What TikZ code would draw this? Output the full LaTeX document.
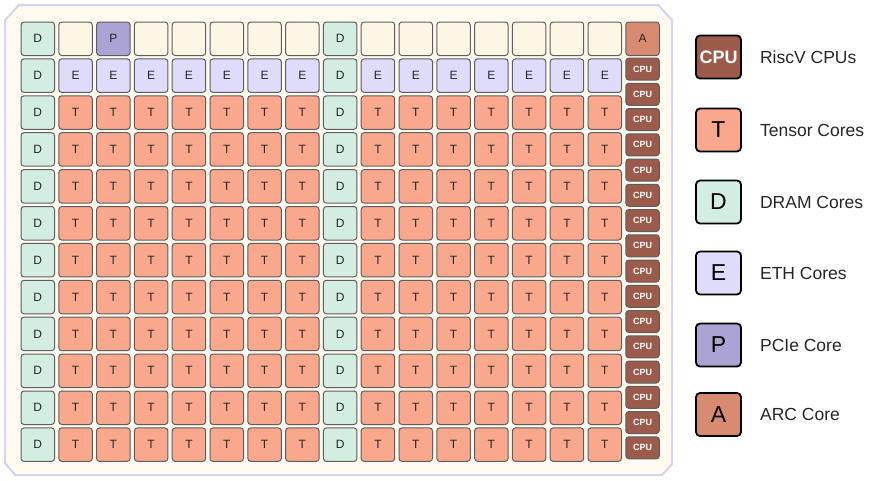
\documentclass[tikz,border=0pt]{standalone}
\usepackage{fontspec}
\setmainfont{Liberation Sans}
\usetikzlibrary{positioning}

\definecolor{boardfill}{HTML}{FEFAEF}
\definecolor{boardline}{HTML}{D6D3EC}
\definecolor{tilefill}{HTML}{FCF7E5}
\definecolor{tileline}{HTML}{5E5E5E}
\definecolor{dramfill}{HTML}{D3EDE3}
\definecolor{ethfill}{HTML}{DEDBFB}
\definecolor{tensorfill}{HTML}{F9A88D}
\definecolor{pciefill}{HTML}{ABA3D3}
\definecolor{arcfill}{HTML}{D98B72}
\definecolor{cpufill}{HTML}{9C5A4A}

\tikzset{
  tile/.style={draw=tileline, line width=1pt, rounded corners=3pt,
    minimum width=33.5pt, minimum height=33.5pt, inner sep=0pt,
    text=black!85, font=\fontsize{12}{13}\selectfont},
  blank/.style={tile, fill=tilefill},
  dram/.style={tile, fill=dramfill},
  eth/.style={tile, fill=ethfill},
  tensor/.style={tile, fill=tensorfill},
  pcie/.style={tile, fill=pciefill},
  arc/.style={tile, fill=arcfill},
  cpu/.style={tile, fill=cpufill, minimum height=22pt, text=white,
    font=\fontsize{9}{10}\selectfont\bfseries},
  legbox/.style={draw=black, line width=1.8pt, rounded corners=4pt,
    minimum width=45pt, minimum height=43pt, inner sep=0pt,
    font=\fontsize{23}{24}\selectfont},
  legtext/.style={inner sep=0pt, text=black!85, font=\fontsize{17.5}{19}\selectfont}
}

\begin{document}
\begin{tikzpicture}[x=1pt, y=-1pt]

	\useasboundingbox (0,0) rectangle (880,480);
	\fill[white] (0,0) rectangle (880,480);

	% Board outline
	\draw[boardline, line width=2pt, fill=boardfill]
		(5,20) -- (19,5) -- (658,5) -- (672,20) -- (672,464) -- (662,475)
		-- (15,475) -- (5,463) -- cycle;

	% DRAM columns
	\foreach \r in {0,...,11} {
		\node[dram] (dram-0-\r) at (37.75, {38.75+36.9*\r}) {D};
		\node[dram] (dram-8-\r) at ({37.75+37.8*8}, {38.75+36.9*\r}) {D};
	}

	% Top row: empty tiles, PCIe and ARC
	\foreach \c in {1,3,4,5,6,7,9,10,11,12,13,14,15}
		\node[blank] (blank-\c) at ({37.75+37.8*\c}, 38.75) {};
	\node[pcie] (pcie) at ({37.75+37.8*2}, 38.75) {P};
	\node[arc] (arc) at ({37.75+37.8*16}, 38.75) {A};

	% Ethernet row
	\foreach \c in {1,2,3,4,5,6,7,9,10,11,12,13,14,15}
		\node[eth] (eth-\c) at ({37.75+37.8*\c}, {38.75+36.9}) {E};

	% Tensor cores
	\foreach \r in {2,...,11}
		\foreach \c in {1,2,3,4,5,6,7,9,10,11,12,13,14,15}
			\node[tensor] (tensor-\c-\r) at ({37.75+37.8*\c}, {38.75+36.9*\r}) {T};

	% RiscV CPUs
	\foreach \k in {0,...,15}
		\node[cpu] (cpu-\k) at ({37.75+37.8*16}, {69+25.25*\k}) {CPU};

	% Legend
	\node[legbox, fill=cpufill, text=white, font=\fontsize{18}{19}\selectfont\bfseries] (leg-cpu) at (718.5,57) {CPU};
	\node[legbox, fill=tensorfill] (leg-tensor) at (718.5,130) {T};
	\node[legbox, fill=dramfill] (leg-dram) at (718.5,202) {D};
	\node[legbox, fill=ethfill] (leg-eth) at (718.5,273) {E};
	\node[legbox, fill=pciefill] (leg-pcie) at (718.5,345) {P};
	\node[legbox, fill=arcfill] (leg-arc) at (718.5,414.5) {A};

	\node[legtext, right=18pt of leg-cpu] (txt-cpu) {RiscV CPUs};
	\node[legtext, right=18pt of leg-tensor] (txt-tensor) {Tensor Cores};
	\node[legtext, right=18pt of leg-dram] (txt-dram) {DRAM Cores};
	\node[legtext, right=18pt of leg-eth] (txt-eth) {ETH Cores};
	\node[legtext, right=18pt of leg-pcie] (txt-pcie) {PCIe Core};
	\node[legtext, right=18pt of leg-arc] (txt-arc) {ARC Core};

\end{tikzpicture}
\end{document}
